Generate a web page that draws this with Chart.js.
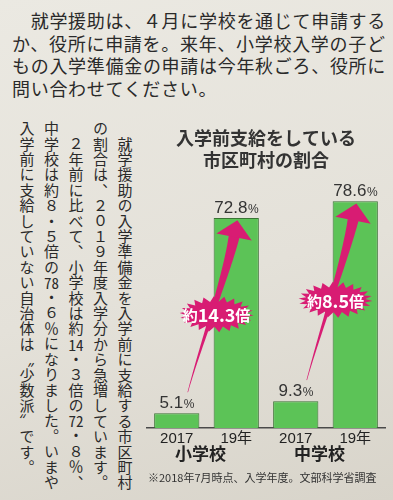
<!DOCTYPE html>
<html><head><meta charset="utf-8">
<script src="https://cdn.jsdelivr.net/npm/chart.js@4/dist/chart.umd.min.js"></script>
<style>
html,body{margin:0;padding:0;}
body{width:393px;height:500px;overflow:hidden;position:relative;
 background:linear-gradient(165deg,#ebe9e2 0%,#e4e1d9 55%,#d8d4ca 100%);
 font-family:"Noto Sans CJK JP",sans-serif;color:#2a2a2a;}
#lead{position:absolute;left:12px;top:9px;font-size:18px;line-height:22.5px;letter-spacing:0.7px;white-space:nowrap;}
#body{position:absolute;left:14px;top:121px;width:122.5px;height:375px;writing-mode:vertical-rl;
 font-size:15px;line-height:24.5px;letter-spacing:0.4px;white-space:nowrap;}
.tcy{text-combine-upright:all;}
#chartbox{position:absolute;left:145px;top:100px;width:248px;height:400px;}
#note{position:absolute;left:148px;top:470px;font-size:11px;line-height:14px;color:#333;white-space:nowrap;}
</style></head>
<body>
<div id="lead">　就学援助は、４月に学校を通じて申請する<br>か、役所に申請を。来年、小学校入学の子ど<br>もの入学準備金の申請は今年秋ごろ、役所に<br>問い合わせてください。</div>
<div id="body">　就学援助の入学準備金を入学前に支給する市区町村<br>の割合は、２０１９年度入学分から急増しています。<br>　２年前に比べて、小学校は約<span class="tcy">14</span>・３倍の<span class="tcy">72</span>・８％、<br>中学校は約８・５倍の<span class="tcy">78</span>・６％になりました。いまや<br>入学前に支給していない自治体は〝少数派〟です。</div>
<div id="chartbox"><canvas id="c" width="248" height="400"></canvas></div>
<div id="note">※2018年7月時点、入学年度。文部科学省調査</div>
<script>
const categories = ['2017', '19年', '2017', '19年'];
const groups = ['小学校', '中学校'];
const values = [5.1, 72.8, 9.3, 78.6];
const multipliers = ['14.3', '8.5'];
const titleLines = ['入学前支給をしている', '市区町村の割合'];

const ARROW = '#d81c73';

function bez(p, t){
  const u = 1 - t;
  const a = u*u*u, b = 3*u*u*t, c = 3*u*t*t, d = t*t*t;
  return {x: a*p[0].x + b*p[1].x + c*p[2].x + d*p[3].x, y: a*p[0].y + b*p[1].y + c*p[2].y + d*p[3].y};
}
function bezD(p, t){
  const u = 1 - t;
  return {x: 3*u*u*(p[1].x-p[0].x) + 6*u*t*(p[2].x-p[1].x) + 3*t*t*(p[3].x-p[2].x),
          y: 3*u*u*(p[1].y-p[0].y) + 6*u*t*(p[2].y-p[1].y) + 3*t*t*(p[3].y-p[2].y)};
}
function drawArrow(ctx, p){
  const N = 50, L = [], R = [];
  for (let i = 0; i <= N; i++){
    const t = i / N, pt = bez(p, t), d = bezD(p, t);
    const len = Math.hypot(d.x, d.y), nx = -d.y/len, ny = d.x/len;
    const w = 0.3 + 5.2 * Math.pow(t, 1.4);
    L.push({x: pt.x + nx*w, y: pt.y + ny*w});
    R.push({x: pt.x - nx*w, y: pt.y - ny*w});
  }
  ctx.fillStyle = ARROW;
  ctx.beginPath();
  L.forEach((q, i) => i ? ctx.lineTo(q.x, q.y) : ctx.moveTo(q.x, q.y));
  for (let i = R.length - 1; i >= 0; i--) ctx.lineTo(R[i].x, R[i].y);
  ctx.closePath(); ctx.fill();
  const d = bezD(p, 1), len = Math.hypot(d.x, d.y), dx = d.x/len, dy = d.y/len;
  const nx = -dy, ny = dx, b = p[3];
  ctx.beginPath();
  ctx.moveTo(b.x + dx*16, b.y + dy*16);
  ctx.lineTo(b.x + nx*18 - dx*1, b.y + ny*18 - dy*1);
  ctx.lineTo(b.x - nx*18 - dx*1, b.y - ny*18 - dy*1);
  ctx.closePath(); ctx.fill();
}
function drawStar(ctx, cx, cy, label){
  const n = 22, rxo = 37, ryo = 18, rxi = 30, ryi = 12.5;
  ctx.fillStyle = ARROW;
  ctx.beginPath();
  for (let i = 0; i < n*2; i++){
    const a = i * Math.PI / n + 0.07;
    const o = i % 2 === 0;
    const x = cx + Math.cos(a) * (o ? rxo : rxi), y = cy + Math.sin(a) * (o ? ryo : ryi);
    i ? ctx.lineTo(x, y) : ctx.moveTo(x, y);
  }
  ctx.closePath(); ctx.fill();
  const fS = 'bold 15px "Noto Sans CJK JP"', fB = 'bold 18px "Noto Sans CJK JP"';
  ctx.fillStyle = '#ffffff';
  ctx.textBaseline = 'middle'; ctx.textAlign = 'left';
  ctx.font = fS; const w1 = ctx.measureText('約').width, w3 = ctx.measureText('倍').width;
  ctx.font = fB; const w2 = ctx.measureText(label).width;
  let x = cx - (w1 + w2 + w3) / 2;
  ctx.font = fS; ctx.fillText('約', x, cy + 1); x += w1;
  ctx.font = fB; ctx.fillText(label, x, cy + 1); x += w2;
  ctx.font = fS; ctx.fillText('倍', x, cy + 1);
}

const overlay = {
  id: 'overlay',
  afterDatasetsDraw(chart){
    const ctx = chart.ctx, meta = chart.getDatasetMeta(0);
    ctx.save();
    meta.data.forEach((bar, i) => {
      const num = String(values[i]);
      ctx.textBaseline = 'alphabetic'; ctx.textAlign = 'left'; ctx.fillStyle = '#333';
      ctx.font = '17px "Liberation Sans", Arial, sans-serif';
      const w1 = ctx.measureText(num).width;
      ctx.font = '12px "Liberation Sans", Arial, sans-serif';
      const w2 = ctx.measureText('%').width;
      const x = bar.x - (w1 + w2) / 2, y = bar.y - 5;
      ctx.font = '17px "Liberation Sans", Arial, sans-serif'; ctx.fillText(num, x, y);
      ctx.font = '12px "Liberation Sans", Arial, sans-serif'; ctx.fillText('%', x + w1 + 0.5, y);
    });
    for (let g = 0; g < groups.length; g++){
      const a = meta.data[g*2], b = meta.data[g*2 + 1];
      const p0 = {x: a.x + 11, y: a.y - 21};
      const p3 = {x: b.x - 2, y: b.y + 18};
      const p = [p0, {x: p0.x + 12, y: p0.y - 45}, {x: p3.x - 8, y: p3.y + 40}, p3];
      drawArrow(ctx, p);
      const m = bez(p, 0.5);
      drawStar(ctx, m.x + 4, m.y + 2, multipliers[g]);
    }
    ctx.fillStyle = '#222'; ctx.textAlign = 'center'; ctx.textBaseline = 'middle';
    ctx.font = 'bold 17px "Noto Sans CJK JP"';
    const bottom = chart.chartArea.bottom;
    for (let g = 0; g < groups.length; g++){
      const x = (meta.data[g*2].x + meta.data[g*2 + 1].x) / 2 - 6;
      ctx.fillText(groups[g], x, bottom + 26);
    }
    ctx.restore();
  }
};

new Chart(document.getElementById('c'), {
  type: 'bar',
  data: {
    labels: categories,
    datasets: [{
      data: values,
      backgroundColor: '#5cc357',
      borderColor: '#3a7434',
      borderWidth: 1,
      barPercentage: 0.76,
      categoryPercentage: 1
    }]
  },
  options: {
    responsive: false,
    animation: false,
    devicePixelRatio: 1,
    layout: {padding: {left: 2, right: 8, top: 0, bottom: 0}},
    plugins: {
      legend: {display: false},
      tooltip: {enabled: false},
      title: {
        display: true,
        text: titleLines,
        color: '#333',
        font: {family: '"Noto Sans CJK JP"', size: 18, weight: 'bold', lineHeight: 1.25},
        padding: {top: 26.75, bottom: 11}
      }
    },
    scales: {
      x: {
        grid: {display: false, drawTicks: false},
        border: {display: true, color: '#4a4a4a', width: 1.5},
        ticks: {color: '#222', padding: 2, font: {family: '"Liberation Sans", "Noto Sans CJK JP", sans-serif', size: 15}},
        afterFit: (axis) => { axis.height = 72; }
      },
      y: {display: false, min: 0, max: 85}
    }
  },
  plugins: [overlay]
});
</script>
</body></html>
